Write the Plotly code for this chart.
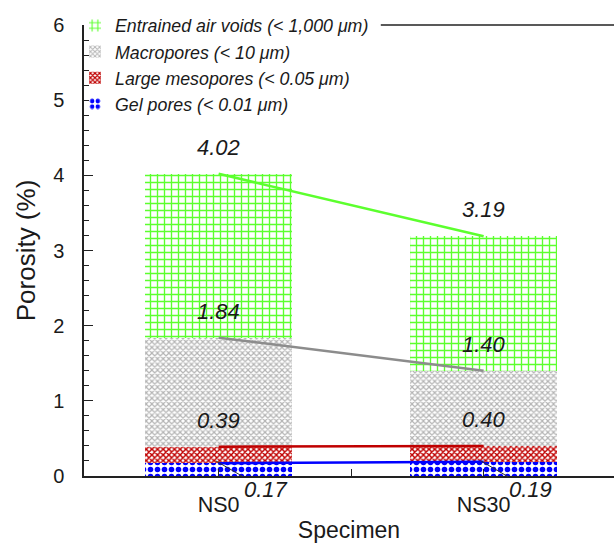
import numpy as np
import plotly.graph_objects as go

specimens = ["NS0", "NS30"]
x_pos = [0, 1]
cum_gel = [0.17, 0.19]
cum_large = [0.39, 0.40]
cum_macro = [1.84, 1.40]
cum_air = [4.02, 3.19]

series_names = ["Gel pores (< 0.01 μm)", "Large mesopores (< 0.05 μm)",
                "Macropores (< 10 μm)", "Entrained air voids (< 1,000 μm)"]
cums = [cum_gel, cum_large, cum_macro, cum_air]
incs = [list(np.round(np.array(c) - np.array(p), 3)) for c, p in
        zip(cums, [[0, 0]] + cums[:-1])]

fg = ["#0000ff", "#c00000", "#b4b4b4", "#5cff2e"]
bgc = ["#ffffff", "#ffffff", "#ffffff", "#ffffff"]
shapes = [".", "x", "x", "+"]
sizes = [7, 4, 4, 7]
solid = [0.5, 0.6, 0.5, 0.35]
line_cols = ["#0000ff", "#c00000", "#8c8c8c", "#5cff2e"]

fig = go.Figure()
for i in range(4):
    fig.add_trace(go.Bar(
        x=x_pos, y=incs[i], name=series_names[i], width=0.555,
        marker=dict(color=bgc[i], line=dict(width=0),
                    pattern=dict(shape=shapes[i], fgcolor=fg[i], bgcolor=bgc[i],
                                 size=sizes[i], solidity=solid[i], fillmode="replace")),
    ))
for i in range(4):
    fig.add_trace(go.Scatter(x=x_pos, y=cums[i], mode="lines", showlegend=False,
                             line=dict(color=line_cols[i], width=2.5)))

lab_font = dict(family="Liberation Sans, Arial", size=22, color="#1a1a1a")
for j in range(2):
    for c in (cum_air, cum_macro, cum_large):
        fig.add_annotation(x=x_pos[j], y=c[j] + 0.35, text=f"<i>{c[j]:.2f}</i>",
                           showarrow=False, font=lab_font)
    fig.add_annotation(x=x_pos[j] - 0.01, y=0.2, text=f"<i>{cum_gel[j]:.2f}</i>",
                       showarrow=True, arrowhead=0, arrowwidth=1, arrowcolor="#333",
                       ax=50, ay=29, xanchor="center", font=lab_font)

# top frame segment (visible right of the legend)
fig.add_shape(type="line", xref="paper", yref="paper", x0=0.56, x1=1, y0=1, y1=1,
              line=dict(color="#222", width=1.5))

fig.update_layout(
    width=614, height=548,
    margin=dict(l=84, r=0, t=25, b=72, autoexpand=False),
    plot_bgcolor="white", paper_bgcolor="white",
    barmode="stack", showlegend=True,
    font=dict(family="Liberation Sans, Arial", size=20, color="#1a1a1a"),
    legend=dict(x=-0.017, y=1.039, xanchor="left", yanchor="top", traceorder="reversed",
                bgcolor="rgba(0,0,0,0)", font=dict(size=17.8, style="italic"),
                itemwidth=30, tracegroupgap=0, borderwidth=0),
    xaxis=dict(range=[-0.508, 1.492], tickvals=[0, 0.5, 1], ticktext=["NS0", "", "NS30"],
               ticks="inside", ticklen=7, tickcolor="#222", showline=True, linecolor="#222",
               linewidth=1.5, mirror=False, showgrid=False, zeroline=False,
               ticklabelstandoff=8, tickfont=dict(size=21.5),
               title=dict(text="Specimen", font=dict(size=23), standoff=6)),
    yaxis=dict(range=[0, 6], dtick=1, ticks="inside", ticklen=9, tickcolor="#222",
               showline=True, linecolor="#222", linewidth=1.5, showgrid=False,
               zeroline=False, ticklabelstandoff=14, tickfont=dict(size=20),
               minor=dict(dtick=0.2, ticks="inside", ticklen=5, tickcolor="#222"),
               title=dict(text="Porosity (%)", font=dict(size=26), standoff=10)),
)
fig.write_html("out.html")
